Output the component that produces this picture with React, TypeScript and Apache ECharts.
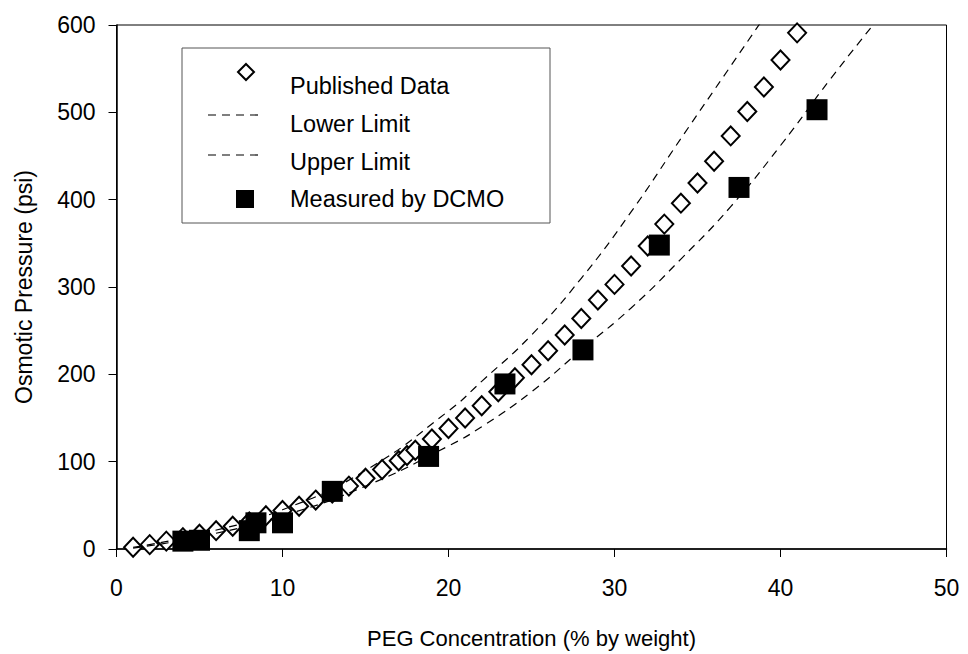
import React, { useEffect, useRef } from "react";
import * as echarts from "echarts";

// Published Data (x: PEG % by weight, y: osmotic pressure psi)
const publishedX = [1, 2, 3, 4, 5, 6, 7, 8, 9, 10, 11, 12, 13, 14, 15, 16, 17, 17.5, 18, 19, 20, 21, 22, 23, 24, 25, 26, 27, 28, 29, 30, 31, 32, 33, 34, 35, 36, 37, 38, 39, 40, 41];
const publishedY = [2, 5, 9, 13, 17, 21, 26, 31, 38, 44, 49, 56, 64, 72, 81, 91, 101, 107, 113, 126, 138, 150, 164, 180, 196, 211, 227, 245, 264, 285, 303, 324, 347, 372, 396, 419, 444, 473, 501, 529, 560, 591];

// Lower Limit curve
const lowerX = [1, 5, 10, 15, 20, 22, 25, 28, 31, 34, 37, 40, 43, 46];
const lowerY = [1, 14, 38, 72, 118, 140, 180, 228, 276, 332, 392, 462, 538, 610];

// Upper Limit curve
const upperX = [1, 5, 10, 15, 20, 22, 25, 28, 31, 34, 37, 40];
const upperY = [2, 17, 45, 90, 158, 192, 245, 310, 386, 470, 553, 636];

// Measured by DCMO
const measuredX = [4, 5, 8, 8.4, 10, 13, 18.8, 23.4, 28.1, 32.7, 37.5, 42.2];
const measuredY = [9, 10, 21, 30, 30, 66, 106, 189, 228, 348, 414, 503];

const xTicks = [0, 10, 20, 30, 40, 50];
const yTicks = [0, 100, 200, 300, 400, 500, 600];

const legendLabels = ["Published Data", "Lower Limit", "Upper Limit", "Measured by DCMO"];

const FONT = "'Liberation Sans', Arial, sans-serif";
const FS = 23;

const zip = (xs: number[], ys: number[]) => xs.map((x, i) => [x, ys[i]]);

export default function App() {
  const ref = useRef<HTMLDivElement>(null);
  useEffect(() => {
    if (!ref.current) return;
    const chart = echarts.init(ref.current, null, { renderer: "svg" });
    const dash = [8, 6];
    const legendTextStyle = { fill: "#000", fontSize: 23.5, fontFamily: FONT, verticalAlign: "middle" as const };
    chart.setOption({
      animation: false,
      backgroundColor: "#fff",
      grid: {
        left: 116.5,
        top: 25,
        right: 21.5,
        bottom: 102.5,
        show: true,
        borderColor: "#000",
        borderWidth: 1,
      },
      xAxis: {
        type: "value",
        min: xTicks[0],
        max: xTicks[xTicks.length - 1],
        interval: 10,
        name: "PEG Concentration (% by weight)",
        nameLocation: "middle",
        nameGap: 78,
        nameTextStyle: { fontSize: 22, fontFamily: FONT, color: "#000" },
        axisLine: { lineStyle: { color: "#000", width: 1.5 } },
        axisTick: { inside: false, length: 8, lineStyle: { color: "#000", width: 1 } },
        axisLabel: { margin: 27, fontSize: FS, fontFamily: FONT, color: "#000" },
        splitLine: { show: false },
      },
      yAxis: {
        type: "value",
        min: yTicks[0],
        max: yTicks[yTicks.length - 1],
        interval: 100,
        name: "Osmotic Pressure (psi)",
        nameLocation: "middle",
        nameGap: 81,
        nameTextStyle: { fontSize: FS, fontFamily: FONT, color: "#000" },
        axisLine: { lineStyle: { color: "#000", width: 1.5 } },
        axisTick: { inside: false, length: 8, lineStyle: { color: "#000", width: 1 } },
        axisLabel: { margin: 21, fontSize: FS, fontFamily: FONT, color: "#000" },
        splitLine: { show: false },
      },
      series: [
        {
          name: legendLabels[0],
          type: "scatter",
          data: zip(publishedX, publishedY),
          symbol: "diamond",
          symbolSize: [18, 19],
          itemStyle: { color: "#fff", borderColor: "#000", borderWidth: 2, opacity: 1 },
          emphasis: { disabled: true },
          z: 2,
        },
        {
          name: legendLabels[1],
          type: "line",
          data: zip(lowerX, lowerY),
          smooth: true,
          showSymbol: false,
          symbol: "none",
          lineStyle: { color: "#000", width: 1.2, type: dash },
          z: 3,
        },
        {
          name: legendLabels[2],
          type: "line",
          data: zip(upperX, upperY),
          smooth: true,
          showSymbol: false,
          symbol: "none",
          lineStyle: { color: "#000", width: 1.2, type: dash },
          z: 3,
        },
        {
          name: legendLabels[3],
          type: "scatter",
          data: zip(measuredX, measuredY),
          symbol: "rect",
          symbolSize: 21,
          itemStyle: { color: "#000", opacity: 1 },
          emphasis: { disabled: true },
          z: 4,
        },
      ],
      graphic: [
        {
          type: "rect",
          shape: { x: 182, y: 48, width: 368, height: 175 },
          style: { fill: "#fff", stroke: "#555", lineWidth: 1 },
          z: 10,
        },
        {
          type: "polygon",
          shape: { points: [[246, 64], [254, 72], [246, 80], [238, 72]] },
          style: { fill: "#fff", stroke: "#000", lineWidth: 2 },
          z: 11,
        },
        {
          type: "line",
          shape: { x1: 208, y1: 115, x2: 262, y2: 115 },
          style: { stroke: "#000", lineWidth: 1.2, lineDash: dash },
          z: 11,
        },
        {
          type: "line",
          shape: { x1: 208, y1: 155, x2: 262, y2: 155 },
          style: { stroke: "#000", lineWidth: 1.2, lineDash: dash },
          z: 11,
        },
        {
          type: "rect",
          shape: { x: 236, y: 190, width: 18, height: 18 },
          style: { fill: "#000" },
          z: 11,
        },
        { type: "text", x: 290, y: 86, style: { ...legendTextStyle, text: legendLabels[0] }, z: 11 },
        { type: "text", x: 290, y: 124, style: { ...legendTextStyle, text: legendLabels[1] }, z: 11 },
        { type: "text", x: 290, y: 162, style: { ...legendTextStyle, text: legendLabels[2] }, z: 11 },
        { type: "text", x: 290, y: 199, style: { ...legendTextStyle, text: legendLabels[3] }, z: 11 },
      ],
    });
    return () => chart.dispose();
  }, []);
  return <div ref={ref} style={{ position: "absolute", left: 0, top: 0, width: 968, height: 654 }} />;
}
